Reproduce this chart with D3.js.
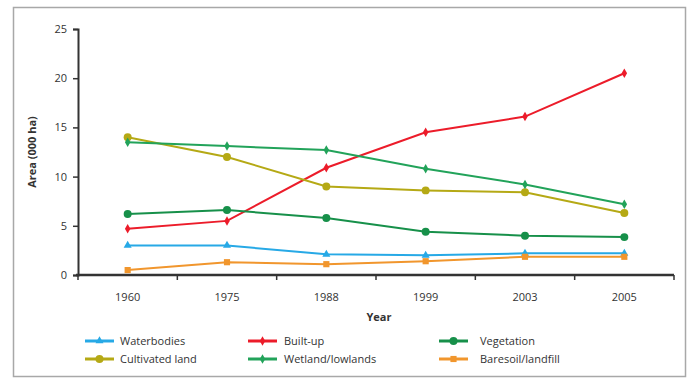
<!DOCTYPE html>
<html>
<head>
<meta charset="utf-8">
<script src="https://cdn.jsdelivr.net/npm/d3@7"></script>
<style>
  body { margin: 0; background: #fff; }
  text { font-family: "Open Sans", "Noto Sans", sans-serif; fill: #333; }
</style>
</head>
<body>
<script>
var width = 689,
    height = 378

var years = ["1960", "1975", "1988", "1999", "2003", "2005"];
var yTicks = [0, 5, 10, 15, 20, 25];

var waterbodies = [3.0, 3.0, 2.1, 2.0, 2.2, 2.2];
var builtUp = [4.7, 5.5, 10.9, 14.5, 16.1, 20.5];
var vegetation = [6.2, 6.6, 5.8, 4.4, 4.0, 3.85];
var cultivated = [14.0, 12.0, 9.0, 8.6, 8.4, 6.3];
var wetland = [13.5, 13.1, 12.7, 10.8, 9.2, 7.2];
var baresoil = [0.5, 1.3, 1.1, 1.4, 1.85, 1.85];

var seriesNames = ["Waterbodies", "Built-up", "Vegetation", "Cultivated land", "Wetland/lowlands", "Baresoil/landfill"];
var seriesValues = [waterbodies, builtUp, vegetation, cultivated, wetland, baresoil];
var seriesColors = ["#27a9e6", "#ec1c2a", "#17904a", "#b5a915", "#22a35a", "#f1962d"];
var seriesSymbols = [d3.symbolTriangle, d3.symbolDiamond, d3.symbolCircle, d3.symbolCircle, d3.symbolDiamond, d3.symbolSquare];
var symbolSizes = [28, 26, 50, 50, 26, 38];

var margin = {left: 78, right: 15, top: 29, bottom: 103};

var svg = d3.select("body").append("svg")
    .attr("width", width)
    .attr("height", height);

// frame
svg.append("rect")
    .attr("x", 13.5).attr("y", 7.5)
    .attr("width", 672).attr("height", 369)
    .attr("fill", "none")
    .attr("stroke", "#a8a8a8")
    .attr("stroke-width", 1.5);

var x = d3.scaleBand()
    .domain(years)
    .range([margin.left, width - margin.right]);

var y = d3.scaleLinear()
    .domain([0, 25])
    .range([height - margin.bottom, margin.top]);

// y axis
var yAxis = svg.append("g")
    .attr("transform", "translate(" + margin.left + ",0)")
    .call(d3.axisLeft(y).tickValues(yTicks).tickSize(5).tickPadding(6));
yAxis.select(".domain").attr("stroke", "#333").attr("stroke-width", 2);
yAxis.selectAll(".tick line").attr("stroke", "#333").attr("stroke-width", 1.5);
yAxis.selectAll("text").style("font-size", "11px").attr("fill", "#444");

// x axis with ticks at band edges
var xg = svg.append("g")
    .attr("transform", "translate(0," + y(0) + ")");
xg.append("line")
    .attr("x1", margin.left - 2).attr("x2", width - margin.right)
    .attr("stroke", "#333").attr("stroke-width", 2.5);
xg.selectAll(".edge")
    .data(years.concat(["end"]))
  .enter().append("line")
    .attr("class", "edge")
    .attr("x1", function(d, i) { return margin.left + i * x.bandwidth(); })
    .attr("x2", function(d, i) { return margin.left + i * x.bandwidth(); })
    .attr("y1", 0).attr("y2", 5)
    .attr("stroke", "#333").attr("stroke-width", 1.5);
xg.selectAll(".lab")
    .data(years)
  .enter().append("text")
    .attr("x", function(d) { return x(d) + x.bandwidth() / 2; })
    .attr("y", 26)
    .attr("text-anchor", "middle")
    .style("font-size", "11px")
    .attr("fill", "#444")
    .text(function(d) { return d; });

// axis titles
svg.append("text")
    .attr("transform", "translate(36," + y(12.5) + ") rotate(-90)")
    .attr("text-anchor", "middle")
    .style("font-size", "11px")
    .style("font-weight", "bold")
    .attr("fill", "#222")
    .text("Area (000 ha)");

svg.append("text")
    .attr("x", 379).attr("y", 321)
    .attr("text-anchor", "middle")
    .style("font-size", "11px")
    .style("font-weight", "bold")
    .attr("fill", "#222")
    .text("Year");

var line = d3.line()
    .x(function(d, i) { return x(years[i]) + x.bandwidth() / 2; })
    .y(function(d) { return y(d); });

var series = svg.selectAll(".series")
    .data(seriesValues)
  .enter().append("g")
    .attr("class", "series");

series.append("path")
    .attr("d", function(d) { return line(d); })
    .attr("fill", "none")
    .attr("stroke", function(d, i) { return seriesColors[i]; })
    .attr("stroke-width", 2);

series.each(function(vals, si) {
  d3.select(this).selectAll(".pt")
      .data(vals)
    .enter().append("path")
      .attr("class", "pt")
      .attr("d", d3.symbol().type(seriesSymbols[si]).size(symbolSizes[si]))
      .attr("transform", function(d, i) {
        return "translate(" + (x(years[i]) + x.bandwidth() / 2) + "," + y(d) + ")";
      })
      .attr("fill", seriesColors[si]);
});

// legend
var legX = [85, 248, 439], legY = [341, 359];
var legend = svg.selectAll(".legend")
    .data(seriesNames)
  .enter().append("g")
    .attr("class", "legend")
    .attr("transform", function(d, i) {
      var col = [0, 1, 2, 0, 1, 2][i], row = i < 3 ? 0 : 1;
      return "translate(" + legX[col] + "," + legY[row] + ")";
    });

legend.append("line")
    .attr("x1", 0).attr("x2", 29)
    .attr("stroke", function(d, i) { return seriesColors[i]; })
    .attr("stroke-width", 3);
legend.append("path")
    .attr("d", function(d, i) { return d3.symbol().type(seriesSymbols[i]).size(symbolSizes[i])(); })
    .attr("transform", "translate(14.5,0)")
    .attr("fill", function(d, i) { return seriesColors[i]; });
legend.append("text")
    .attr("x", function(d, i) { return [35, 36, 41][i % 3]; })
    .attr("y", 4)
    .style("font-size", "11px")
    .attr("fill", "#444")
    .text(function(d) { return d; });
</script>
</body>
</html>
